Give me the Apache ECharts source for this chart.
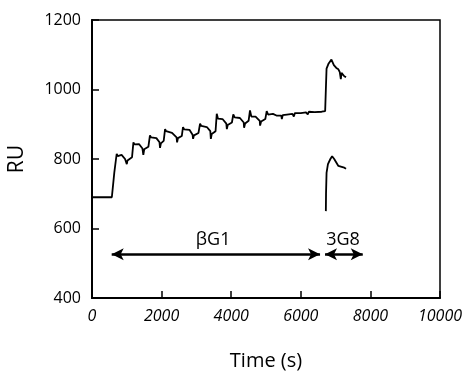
<!DOCTYPE html>
<html>
<head>
<meta charset="utf-8">
<script src="https://cdn.jsdelivr.net/npm/echarts@6/dist/echarts.min.js"></script>
<style>
  html, body { margin: 0; padding: 0; background: #fff; }
  #chart { width: 471px; height: 374px; }
</style>
</head>
<body>
<div id="chart"></div>
<script>
// sensorgram of the βG1 injections, then 3G8 on top
const bindingCurve = [
  [0, 690], [570, 690], [600, 720], [640, 760], [690, 800], [710, 815], [740, 808],
  [850, 812], [950, 800], [1000, 785], [1020, 796], [1150, 805],
  [1190, 848], [1220, 842], [1350, 843], [1450, 830], [1475, 812], [1500, 828], [1620, 835],
  [1665, 868], [1700, 862], [1850, 860], [1940, 848], [1955, 832], [1980, 845], [2060, 852],
  [2100, 886], [2130, 880], [2300, 875], [2430, 862], [2445, 848], [2470, 860], [2580, 866],
  [2615, 892], [2650, 885], [2800, 884], [2890, 870], [2905, 858], [2930, 868], [3060, 875],
  [3105, 902], [3140, 895], [3300, 892], [3400, 880], [3415, 858], [3440, 872], [3550, 880],
  [3585, 930], [3620, 916], [3750, 915], [3860, 902], [3875, 886], [3900, 898], [4020, 905],
  [4060, 928], [4100, 920], [4250, 918], [4360, 905], [4370, 890], [4400, 902], [4500, 910],
  [4540, 940], [4580, 922], [4700, 922], [4820, 910], [4830, 896], [4860, 908], [4980, 915],
  [5020, 938], [5060, 928], [5200, 930], [5300, 925], [5440, 925], [5455, 915], [5480, 926],
  [5600, 928], [5760, 930], [5800, 922], [5830, 932], [6000, 932], [6150, 934], [6200, 928],
  [6230, 936], [6400, 935], [6600, 936], [6700, 938],
  [6720, 1000], [6740, 1060], [6800, 1075], [6880, 1086], [6950, 1070], [7020, 1062],
  [7080, 1058], [7120, 1050], [7150, 1030], [7170, 1048], [7250, 1038], [7300, 1035]
]

// 3G8 alone
const controlCurve = [
  [6720, 650], [6725, 700], [6740, 760], [6780, 785], [6850, 800], [6900, 808],
  [6960, 800], [7020, 790], [7080, 780], [7150, 778], [7250, 775], [7300, 772]
]

// injection periods: [start, end, RU level]
const phases = [
  { name: 'βG1', start: 566, end: 6553, level: 526, labelX: 3480 },
  { name: '3G8', start: 6696, end: 7780, level: 526, labelX: 7213 }
]
const labelLevel = 566

const xTicks = { min: 0, max: 10000, interval: 2000 }
const yTicks = { min: 400, max: 1200, interval: 200 }

const font = '"Open Sans", "DejaVu Sans", sans-serif'
const chart = echarts.init(document.getElementById('chart'))

chart.setOption({
  animation: false,
  backgroundColor: '#fff',
  grid: {
    left: 92,
    right: 31,
    top: 20,
    bottom: 76,
    outerBoundsMode: 'none',
    show: true,
    borderColor: '#000',
    borderWidth: 1.5
  },
  xAxis: {
    type: 'value',
    min: xTicks.min,
    max: xTicks.max,
    interval: xTicks.interval,
    name: 'Time (s)',
    nameLocation: 'middle',
    nameGap: 53,
    nameTextStyle: { color: '#000', fontSize: 20, fontFamily: font },
    axisLine: { lineStyle: { color: '#000', width: 2 } },
    axisTick: { inside: true, length: 7, lineStyle: { color: '#000', width: 1.5 } },
    axisLabel: {
      color: '#000', fontSize: 16, fontStyle: 'italic', fontFamily: font, margin: 10,
      formatter: v => String(v)
    },
    splitLine: { show: false }
  },
  yAxis: {
    type: 'value',
    min: yTicks.min,
    max: yTicks.max,
    interval: yTicks.interval,
    name: 'RU',
    nameLocation: 'middle',
    nameRotate: 90,
    nameGap: 64,
    nameTextStyle: { color: '#000', fontSize: 21, fontFamily: font },
    axisLine: { lineStyle: { color: '#000', width: 2 } },
    axisTick: { inside: true, length: 7, lineStyle: { color: '#000', width: 1.5 } },
    axisLabel: {
      color: '#000', fontSize: 16, fontFamily: font, margin: 11,
      formatter: v => String(v)
    },
    splitLine: { show: false }
  },
  series: [
    {
      type: 'line',
      data: bindingCurve,
      symbol: 'none',
      lineStyle: { color: '#000', width: 1.8 }
    },
    {
      type: 'line',
      data: controlCurve,
      symbol: 'none',
      lineStyle: { color: '#000', width: 1.8 },
      markLine: {
        silent: true,
        symbol: ['arrow', 'arrow'],
        symbolSize: [9, 12],
        label: { show: false },
        lineStyle: { color: '#000', width: 2.5, type: 'solid' },
        data: phases.map(p => [
          { coord: [p.start, p.level] },
          { coord: [p.end, p.level] }
        ])
      }
    },
    {
      type: 'scatter',
      symbolSize: 0,
      itemStyle: { opacity: 1, color: '#000' },
      data: phases.map(p => [p.labelX, labelLevel, p.name]),
      label: {
        show: true,
        position: 'inside',
        formatter: d => d.value[2],
        color: '#000',
        opacity: 1,
        fontSize: 18,
        fontFamily: font
      }
    }
  ]
})
</script>
</body>
</html>
